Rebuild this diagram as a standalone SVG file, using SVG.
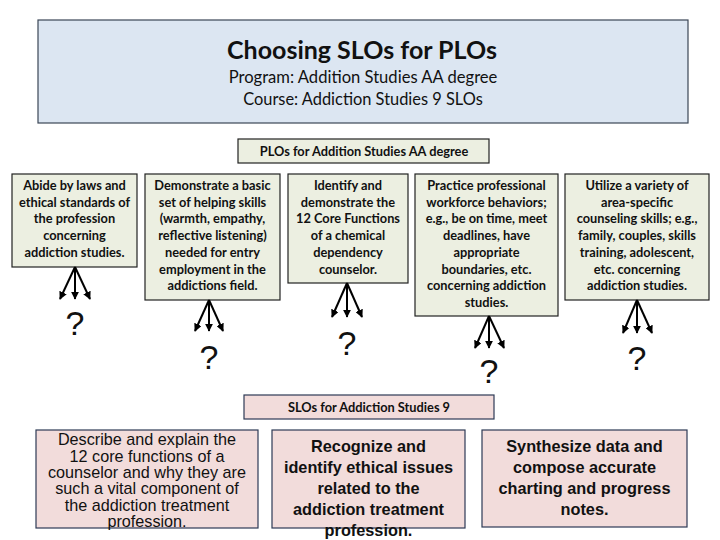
<svg xmlns="http://www.w3.org/2000/svg" width="720" height="540" viewBox="0 0 720 540">
<defs>
<marker id="ah" viewBox="0 0 10 10" refX="9" refY="5" markerUnits="userSpaceOnUse" markerWidth="8" markerHeight="8" orient="auto">
<path d="M0,0 L10,5 L0,10 z" fill="#000"/>
</marker>
<style>
.plo{fill:#ecefe1;stroke:#222;stroke-width:1.2}
.slo{fill:#f2dcdb;stroke:#2e3a55;stroke-width:1.2}
.pt{font-family:Lato,"Open Sans",sans-serif;font-weight:bold;font-size:12.8px;fill:#111;text-anchor:middle}
.bt{font-family:"Liberation Sans",Arial,sans-serif;font-size:16.2px;fill:#111;text-anchor:middle}
.bb{font-family:"Liberation Sans",Arial,sans-serif;font-weight:bold;font-size:16.3px;fill:#111;text-anchor:middle}
.q{font-family:"Liberation Sans",Arial,sans-serif;font-size:34px;fill:#111;text-anchor:middle}
.c line{stroke:#000;stroke-width:2;marker-end:url(#ah)}
</style>
</defs>
<rect width="720" height="540" fill="#fff"/>
<g id="header">
<rect x="38" y="20" width="650" height="103" fill="#dce6f2" stroke="#3b4656" stroke-width="1.2"/>
<text x="362" y="59" font-family="Lato,sans-serif" font-weight="bold" font-size="25" fill="#111" text-anchor="middle">Choosing SLOs for PLOs</text>
<text x="363" y="83" font-family="Lato,sans-serif" font-size="16.6" fill="#111" text-anchor="middle">Program: Addition Studies AA degree</text>
<text x="363" y="105" font-family="Lato,sans-serif" font-size="16.4" fill="#111" text-anchor="middle">Course: Addiction Studies 9 SLOs</text>
</g>
<g id="plo-header">
<rect x="238" y="139" width="251" height="24" class="plo"/>
<text x="364" y="155.5" class="pt">PLOs for Addition Studies AA degree</text>
</g>
<g id="plo1">
<rect x="12" y="174" width="125" height="93" class="plo"/>
<text class="pt"><tspan x="74.5" y="190">Abide by laws and</tspan><tspan x="74.5" y="206.7">ethical standards of</tspan><tspan x="74.5" y="223.4">the profession</tspan><tspan x="74.5" y="240.1">concerning</tspan><tspan x="74.5" y="256.8">addiction studies.</tspan></text>
</g>
<g id="plo2">
<rect x="145" y="174" width="135" height="126" class="plo"/>
<text class="pt"><tspan x="212.5" y="190">Demonstrate a basic</tspan><tspan x="212.5" y="206.7">set of helping skills</tspan><tspan x="212.5" y="223.4">(warmth, empathy,</tspan><tspan x="212.5" y="240.1">reflective listening)</tspan><tspan x="212.5" y="256.8">needed for entry</tspan><tspan x="212.5" y="273.5">employment in the</tspan><tspan x="212.5" y="290.2">addictions field.</tspan></text>
</g>
<g id="plo3">
<rect x="288" y="174" width="120" height="109" class="plo"/>
<text class="pt"><tspan x="348" y="190">Identify and</tspan><tspan x="348" y="206.7">demonstrate the</tspan><tspan x="348" y="223.4">12 Core Functions</tspan><tspan x="348" y="240.1">of a chemical</tspan><tspan x="348" y="256.8">dependency</tspan><tspan x="348" y="273.5">counselor.</tspan></text>
</g>
<g id="plo4">
<rect x="415" y="174" width="143" height="142" class="plo"/>
<text class="pt"><tspan x="486.5" y="190">Practice professional</tspan><tspan x="486.5" y="206.7">workforce behaviors;</tspan><tspan x="486.5" y="223.4">e.g., be on time, meet</tspan><tspan x="486.5" y="240.1">deadlines, have</tspan><tspan x="486.5" y="256.8">appropriate</tspan><tspan x="486.5" y="273.5">boundaries, etc.</tspan><tspan x="486.5" y="290.2">concerning addiction</tspan><tspan x="486.5" y="306.9">studies.</tspan></text>
</g>
<g id="plo5">
<rect x="565" y="174" width="144" height="126" class="plo"/>
<text class="pt"><tspan x="637" y="190">Utilize a variety of</tspan><tspan x="637" y="206.7">area-specific</tspan><tspan x="637" y="223.4">counseling skills; e.g.,</tspan><tspan x="637" y="240.1">family, couples, skills</tspan><tspan x="637" y="256.8">training, adolescent,</tspan><tspan x="637" y="273.5">etc. concerning</tspan><tspan x="637" y="290.2">addiction studies.</tspan></text>
</g>
<g id="connectors" class="c">
<line x1="75" y1="267" x2="60" y2="299"/><line x1="75" y1="267" x2="75" y2="299"/><line x1="75" y1="267" x2="90" y2="299"/>
<line x1="209" y1="300" x2="195" y2="331"/><line x1="209" y1="300" x2="209" y2="331"/><line x1="209" y1="300" x2="223" y2="331"/>
<line x1="347" y1="283" x2="332" y2="317"/><line x1="347" y1="283" x2="347" y2="317"/><line x1="347" y1="283" x2="362" y2="317"/>
<line x1="489" y1="316" x2="475" y2="348"/><line x1="489" y1="316" x2="489" y2="348"/><line x1="489" y1="316" x2="504" y2="348"/>
<line x1="637" y1="300" x2="623" y2="333"/><line x1="637" y1="300" x2="637" y2="333"/><line x1="637" y1="300" x2="652" y2="333"/>
</g>
<g id="questions">
<text class="q" x="75" y="335">?</text>
<text class="q" x="209" y="369">?</text>
<text class="q" x="347" y="355">?</text>
<text class="q" x="489" y="383">?</text>
<text class="q" x="637" y="370">?</text>
</g>
<g id="slo-header">
<rect x="244" y="395" width="250" height="24" class="slo"/>
<text x="369" y="411.5" class="pt">SLOs for Addiction Studies 9</text>
</g>
<g id="slo1">
<rect x="36" y="430" width="222" height="98" class="slo"/>
<text class="bt"><tspan x="147" y="445">Describe and explain the</tspan><tspan x="147" y="461.5">12 core functions of a</tspan><tspan x="147" y="478">counselor and why they are</tspan><tspan x="147" y="494">such a vital component of</tspan><tspan x="147" y="510.5">the addiction treatment</tspan><tspan x="147" y="527">profession.</tspan></text>
</g>
<g id="slo2">
<rect x="272" y="430" width="193" height="98" class="slo"/>
<text class="bb"><tspan x="368.5" y="452">Recognize and</tspan><tspan x="368.5" y="473">identify ethical issues</tspan><tspan x="368.5" y="494">related to the</tspan><tspan x="368.5" y="515">addiction treatment</tspan><tspan x="368.5" y="536">profession.</tspan></text>
</g>
<g id="slo3">
<rect x="482" y="430" width="205" height="97" class="slo"/>
<text class="bb"><tspan x="584.5" y="452">Synthesize data and</tspan><tspan x="584.5" y="473">compose accurate</tspan><tspan x="584.5" y="494">charting and progress</tspan><tspan x="584.5" y="515">notes.</tspan></text>
</g>
</svg>
